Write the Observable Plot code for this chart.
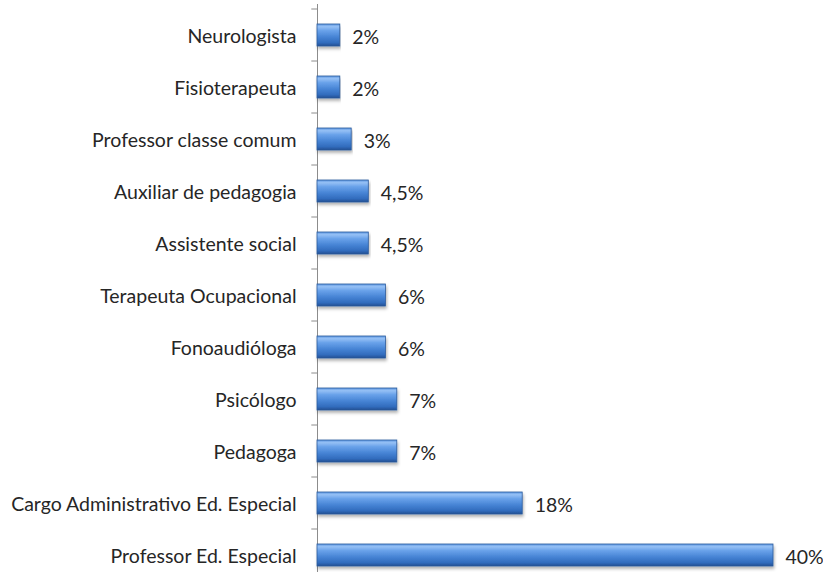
<!DOCTYPE html>
<html>
<head>
<meta charset="utf-8">
<script src="https://cdn.jsdelivr.net/npm/d3@7"></script>
<script src="https://cdn.jsdelivr.net/npm/@observablehq/plot@0.6"></script>
<style>
  html, body { margin: 0; padding: 0; background: #fff; overflow: hidden; }
  #chart svg { display: block; }
</style>
</head>
<body>
<div id="chart"></div>
<script>
const categories = ["Neurologista","Fisioterapeuta","Professor classe comum","Auxiliar de pedagogia","Assistente social","Terapeuta Ocupacional","Fonoaudióloga","Psicólogo","Pedagoga","Cargo Administrativo Ed. Especial","Professor Ed. Especial"];
const values = [2,2,3,4.5,4.5,6,6,7,7,18,40];
const valueLabels = ["2%","2%","3%","4,5%","4,5%","6%","6%","7%","7%","18%","40%"];

const data = categories.map((c, i) => ({category: c, value: values[i], label: valueLabels[i]}));

const font = "Lato, 'Open Sans', sans-serif";

const chart = Plot.plot({
  width: 823,
  height: 586,
  marginLeft: 317,
  marginRight: 50,
  marginTop: 4,
  marginBottom: 0,
  style: {fontFamily: font, fontSize: "19.5px", color: "#262626", background: "#fff", overflow: "visible"},
  x: {domain: [0, 40], axis: null},
  y: {domain: categories, paddingInner: 0.57, paddingOuter: 0.285, label: null},
  marks: [
    Plot.axisY({tickSize: 0, tickPadding: 21, fontSize: 19.5, fill: "#262626", dy: 1}),
    Plot.ruleY(categories, {y: d => d, x1: -0.5, x2: 0, dy: -26.5, stroke: "#8c8c8c"}),
    Plot.ruleX([0], {stroke: "#8c8c8c"}),
    Plot.barX(data, {x: "value", y: "category", fill: "url(#barGrad)", stroke: "#2c5a9c", strokeWidth: 0.8}),
    Plot.text(data, {x: "value", y: "category", text: "label", textAnchor: "start", dx: 12, dy: 2, fontSize: 19.5, fill: "#262626"})
  ]
});

const ns = "http://www.w3.org/2000/svg";
const defs = document.createElementNS(ns, "defs");
defs.innerHTML = `
  <linearGradient id="barGrad" x1="0" y1="0" x2="0" y2="1">
    <stop offset="0" stop-color="#5f98e2"/>
    <stop offset="0.12" stop-color="#95c0f5"/>
    <stop offset="0.3" stop-color="#6aa2ea"/>
    <stop offset="0.6" stop-color="#4583d4"/>
    <stop offset="0.85" stop-color="#326cbd"/>
    <stop offset="1" stop-color="#214f92"/>
  </linearGradient>
  <filter id="barShadow" x="-5%" y="-30%" width="110%" height="180%">
    <feDropShadow dx="1" dy="2.5" stdDeviation="1.6" flood-color="#000" flood-opacity="0.3"/>
  </filter>`;
chart.insertBefore(defs, chart.firstChild);
chart.querySelectorAll("rect").forEach(r => {
  if ((r.getAttribute("fill") || "").includes("barGrad") || (r.parentNode.getAttribute("fill") || "").includes("barGrad")) {
    r.setAttribute("filter", "url(#barShadow)");
  }
});
document.getElementById("chart").appendChild(chart);
</script>
</body>
</html>
